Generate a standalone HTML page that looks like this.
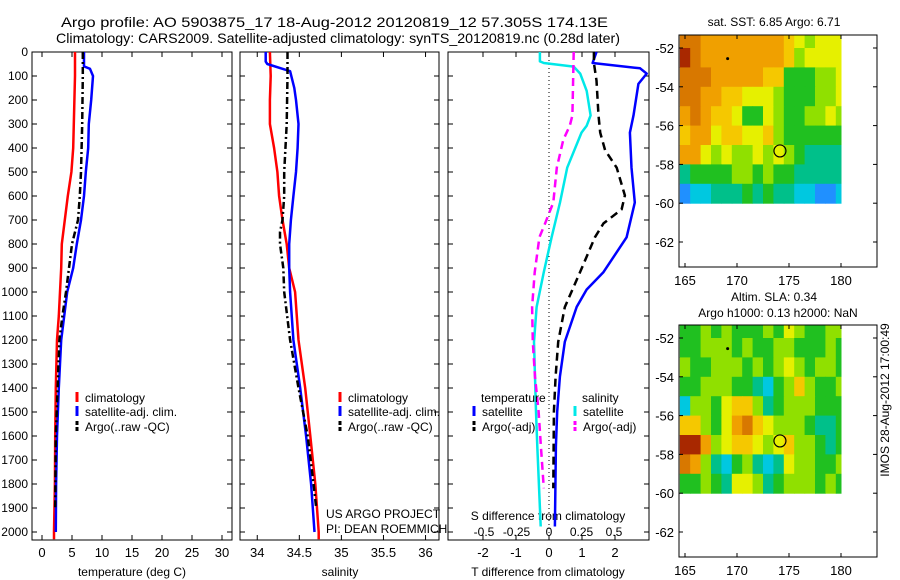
<!DOCTYPE html>
<html><head><meta charset="utf-8"><style>
html,body{margin:0;padding:0;background:#fff;}
svg{display:block;font-family:"Liberation Sans",sans-serif;}
</style></head><body>
<svg id="chart" width="900" height="580" viewBox="0 0 900 580" xmlns="http://www.w3.org/2000/svg">
<text x="61" y="27" font-size="14" textLength="547" lengthAdjust="spacingAndGlyphs">Argo profile: AO 5903875_17 18-Aug-2012 20120819_12 57.305S 174.13E</text>
<text x="56" y="43" font-size="14" textLength="564" lengthAdjust="spacingAndGlyphs">Climatology: CARS2009. Satellite-adjusted climatology: synTS_20120819.nc (0.28d later)</text>
<text x="326" y="518" font-size="12">US ARGO PROJECT</text>
<text x="326" y="533" font-size="12">PI: DEAN ROEMMICH</text>
<text x="548" y="520" font-size="12" text-anchor="middle">S difference from climatology</text>
<text x="774" y="26" font-size="12" text-anchor="middle">sat. SST: 6.85 Argo: 6.71</text>
<text x="774" y="301" font-size="12" text-anchor="middle">Altim. SLA: 0.34</text>
<text x="778" y="317" font-size="12" text-anchor="middle">Argo h1000: 0.13 h2000: NaN</text>
<text transform="translate(889,400) rotate(-90)" font-size="12" text-anchor="middle">IMOS 28-Aug-2012 17:00:49</text>
</svg>
<script>
const depthTicks=[0,100,200,300,400,500,600,700,800,900,1000,1100,1200,1300,1400,1500,1600,1700,1800,1900,2000];
const tClimDepth=[0,100,200,300,400,500,600,700,800,900,1000,1100,1200,1400,1600,1800,2000,2030];
const tClimVal=[5.5,5.5,5.4,5.3,5.2,4.9,4.3,3.8,3.3,3.2,3.0,2.8,2.5,2.3,2.2,2.15,2.0,2.0];
const tSatDepth=[0,60,70,100,200,300,400,500,600,700,800,900,1000,1100,1200,1400,1600,1800,2000];
const tSatVal=[7.0,7.0,8.0,8.5,8.2,7.8,7.7,7.3,7.0,6.5,5.8,5.2,4.2,3.7,3.2,2.8,2.5,2.35,2.3];
const tArgoDepth=[0,100,300,500,600,700,800,900,1000,1100,1200,1400,1600,1900];
const tArgoVal=[6.8,6.8,6.7,6.5,6.3,6.0,5.0,4.5,4.0,3.4,2.9,2.6,2.3,2.2];
const tTicks=[0,5,10,15,20,25,30];

const sClimDepth=[0,100,200,300,400,500,600,700,800,900,1000,1200,1400,1600,1800,2000,2030];
const sClimVal=[34.15,34.16,34.15,34.15,34.2,34.24,34.26,34.3,34.35,34.38,34.45,34.49,34.57,34.63,34.69,34.73,34.73];
const sSatDepth=[0,40,50,70,80,150,200,300,400,500,600,700,800,900,1000,1200,1400,1600,1800,2000];
const sSatVal=[34.1,34.1,34.12,34.3,34.39,34.44,34.46,34.49,34.48,34.46,34.43,34.4,34.38,34.38,34.39,34.43,34.51,34.58,34.64,34.68];
const sArgoDepth=[0,100,300,500,600,700,750,800,900,1000,1200,1400,1600,1800,1900];
const sArgoVal=[34.36,34.36,34.35,34.32,34.32,34.3,34.27,34.27,34.31,34.32,34.39,34.49,34.6,34.67,34.7];
const sTicks=[34,34.5,35,35.5,36];
const sTickLabels=["34","34.5","35","35.5","36"];

const dtSatDepth=[0,46,68,90,133,264,336,482,627,772,917,990,1062,1208,1353,1498,1643,1977];
const dtSatVal=[1.44,1.32,2.76,2.96,2.71,2.56,2.45,2.5,2.6,2.35,1.65,1.14,0.84,0.48,0.33,0.25,0.21,0.18];
const dtArgoDepth=[0,46,119,264,336,409,482,598,656,714,772,918,1063,1208,1353,1498,1818];
const dtArgoVal=[1.36,1.36,1.44,1.5,1.55,1.7,2.05,2.3,2.2,1.65,1.39,0.94,0.48,0.28,0.2,0.15,0.13];
const dsSatDepth=[0,39,46,61,90,162,264,307,336,482,627,772,917,1063,1208,1353,1498,1643,1977];
const dsSatVal=[-0.07,-0.07,-0.04,0.19,0.24,0.29,0.32,0.29,0.25,0.14,0.085,0.02,-0.04,-0.095,-0.115,-0.108,-0.1,-0.09,-0.064];
const dsArgoDepth=[0,264,307,366,482,627,714,772,918,1063,1208,1353,1498,1643,1818];
const dsArgoVal=[0.19,0.18,0.16,0.11,0.06,0.033,-0.03,-0.074,-0.11,-0.13,-0.125,-0.108,-0.08,-0.062,-0.04];
const dtTicks=[-2,-1,0,1,2];
const dsTicks=[-0.5,-0.25,0,0.25,0.5];
const dsTickLabels=["-0.5","-0.25","0","0.25","0.5"];

const mapLons=[165,166,167,168,169,170,171,172,173,174,175,176,177,178,179,180];
const mapLats=[-51.5,-52.5,-53.5,-54.5,-55.5,-56.5,-57.5,-58.5,-59.5];
const sstGrid=[
[8,8,7,7,7,7,7,7,7,7,6,5,4,5,5,5],
[9,8,7,7,7,7,7,7,7,7,6,4,5,5,5,5],
[8,8,8,7,7,7,7,7,6,6,3,3,3,4,4,5],
[8,8,7,7,6,6,5,5,5,4,3,3,3,4,4,5],
[7,8,7,6,6,5,3,3,5,4,3,3,4,4,5,4],
[6,7,7,5,6,6,5,5,6,4,3,3,3,3,3,3],
[7,7,5,4,5,4,4,5,4,5,4,3,2,2,2,2],
[2,3,3,3,3,4,4,3,4,3,3,2,2,2,2,2],
[0,1,1,2,2,2,3,2,3,2,2,1,1,0,0,1]];
const slaGrid=[
[3,3,4,3,4,3,3,3,4,3,5,4,3,3,4,4],
[3,3,4,4,4,3,4,3,3,4,4,3,3,3,4,3],
[4,3,3,4,4,4,3,4,3,4,5,4,3,4,4,3],
[3,3,4,4,4,3,3,2,1,3,4,6,4,3,3,4],
[1,4,4,3,5,6,6,4,2,3,4,4,4,3,3,3],
[6,6,4,3,5,7,8,6,5,4,4,4,3,2,2,3],
[9,9,7,4,5,6,6,5,4,5,6,4,4,3,2,3],
[8,7,4,2,1,3,4,2,1,2,5,4,4,3,3,4],
[3,3,4,3,2,5,5,4,2,3,4,4,4,3,4,3]];
const palette=["#2090ff","#00c8e0","#00c08a","#20c020","#90e000","#e6f000","#f5c800","#f0a000","#d87800","#a82800"];
const floatLon=174.13, floatLat=-57.305;
const dotLon=169.1, dotLat=-52.55;
const lonTicks=[165,170,175,180];
const latTicks=[-52,-54,-56,-58,-60,-62];

const svg=document.getElementById('chart');
const NS='http://www.w3.org/2000/svg';
function mk(tag,attrs,parent){const e=document.createElementNS(NS,tag);for(const k in attrs)e.setAttribute(k,attrs[k]);(parent||svg).appendChild(e);return e;}
function txt(x,y,s,anchor,parent,size){const e=mk('text',{x:x,y:y,'font-size':size||12,'text-anchor':anchor||'start'},parent);e.textContent=s;return e;}

const TOP=52, BOT=540;
function yDepth(d){return TOP+d*0.24;}

function panel(name,x0,x1,xmin,xmax){
  const g=mk('g',{});
  
  
  const fx=v=>x0+(v-xmin)/(xmax-xmin)*(x1-x0);
  const r=mk('rect',{x:x0,y:TOP,width:x1-x0,height:BOT-TOP,fill:'none',stroke:'#000','stroke-width':1},g);
  
  
  depthTicks.forEach(d=>{
    const y=yDepth(d);
    mk('line',{x1:x0,y1:y,x2:x0+5,y2:y,stroke:'#000'},g);
    mk('line',{x1:x1-5,y1:y,x2:x1,y2:y,stroke:'#000'},g);
  });
  return {g,fx};
}
function xTicks(p,ticks,labels,x0,x1,ly){
  ticks.forEach((t,i)=>{
    const x=p.fx(t);
    mk('line',{x1:x,y1:TOP,x2:x,y2:TOP+5,stroke:'#000'},p.g);
    mk('line',{x1:x,y1:BOT-5,x2:x,y2:BOT,stroke:'#000'},p.g);
    const l=txt(x,ly,labels[i],'middle',p.g,13);
    
    
  });
}
function line(p,ds,vs,fx,color,w,dash,name){
  const pts=ds.map((d,i)=>fx(vs[i]).toFixed(1)+','+yDepth(d).toFixed(1)).join(' ');
  const e=mk('polyline',{points:pts,fill:'none',stroke:color,'stroke-width':w,'stroke-dasharray':dash||'none','stroke-linejoin':'round'},p.g);
  
  
}
function legendEntry(parent,x,y,color,dash,label){
  const g=mk('g',{},parent);
  
  
  mk('line',{x1:x,y1:y-10,x2:x,y2:y,stroke:color,'stroke-width':3,'stroke-dasharray':dash||'none'},g);
  txt(x+8,y,label,'start',g);
}

const p1=panel('temperature-panel',32,232,-1.667,31.667);
xTicks(p1,tTicks,tTicks.map(String),32,232,557);
line(p1,tClimDepth,tClimVal,p1.fx,'#ff0000',2.5,null,'temp-climatology-line');
line(p1,tSatDepth,tSatVal,p1.fx,'#0000ff',2.5,null,'temp-satellite-line');
line(p1,tArgoDepth,tArgoVal,p1.fx,'#000',2.5,'7,3,2,3','temp-argo-line');
depthTicks.forEach(d=>{const l=txt(28,yDepth(d)+4,String(d),'end');
  
  });
const t1=txt(132,576,'temperature (deg C)','middle');


legendEntry(p1.g,77,402,'#ff0000',null,'climatology');
legendEntry(p1.g,77,416,'#0000ff',null,'satellite-adj. clim.');
legendEntry(p1.g,77,431,'#000','4,2','Argo(..raw -QC)');

const p2=panel('salinity-panel',240,439,33.795,36.16);
xTicks(p2,sTicks,sTickLabels,240,439,557);
line(p2,sClimDepth,sClimVal,p2.fx,'#ff0000',2.5,null,'sal-climatology-line');
line(p2,sSatDepth,sSatVal,p2.fx,'#0000ff',2.5,null,'sal-satellite-line');
line(p2,sArgoDepth,sArgoVal,p2.fx,'#000',2.5,'7,3,2,3','sal-argo-line');
const t2=txt(340,576,'salinity','middle');


legendEntry(p2.g,340,402,'#ff0000',null,'climatology');
legendEntry(p2.g,340,416,'#0000ff',null,'satellite-adj. clim.');
legendEntry(p2.g,340,431,'#000','4,2','Argo(..raw -QC)');

const p3=panel('difference-panel',448,649,-3.06,3.03);
const fs=v=>549+v*130;
xTicks(p3,dtTicks,dtTicks.map(String),448,649,557);
dsTicks.forEach((t,i)=>{const l=txt(fs(t),536,dsTickLabels[i],'middle',p3.g);
  
  });
const zl=mk('line',{x1:p3.fx(0),y1:TOP,x2:p3.fx(0),y2:BOT,stroke:'#000','stroke-dasharray':'1,3'},p3.g);


line(p3,dsSatDepth,dsSatVal,fs,'#00e8e8',2.5,null,'sal-diff-satellite-line');
line(p3,dsArgoDepth,dsArgoVal,fs,'#ff00ff',2.5,'8,5','sal-diff-argo-line');
line(p3,dtSatDepth,dtSatVal,p3.fx,'#0000ff',2.5,null,'temp-diff-satellite-line');
line(p3,dtArgoDepth,dtArgoVal,p3.fx,'#000',2.5,'8,5','temp-diff-argo-line');
const t3=txt(548,576,'T difference from climatology','middle');


txt(481,402,'temperature','start',p3.g);
legendEntry(p3.g,474,416,'#0000ff',null,'satellite');
legendEntry(p3.g,474,431,'#000','4,2','Argo(-adj)');
txt(582,402,'salinity','start',p3.g);
legendEntry(p3.g,575,416,'#00e8e8',null,'satellite');
legendEntry(p3.g,575,431,'#ff00ff','4,2','Argo(-adj)');

function drawMap(name,top,grid){
  const g=mk('g',{});
  
  
  const lx=lon=>685+(lon-165)*10.4;
  const ly=lat=>top+13+(-52-lat)*19.4;
  grid.forEach((row,r)=>row.forEach((v,c)=>{
    const lon=mapLons[c], lat=mapLats[r];
    const x0=Math.max(lx(lon-0.5),679), x1=Math.min(lx(lon+0.5),841);
    const y0=Math.max(ly(lat+0.5),top), y1=ly(lat-0.5);
    const cell=mk('rect',{x:x0,y:y0,width:x1-x0+0.5,height:y1-y0+0.5,fill:palette[v]},g);
    
    
  }));
  mk('rect',{x:679,y:top,width:198,height:232,fill:'none',stroke:'#000'},g);
  lonTicks.forEach(l=>{const x=lx(l);
    mk('line',{x1:x,y1:top,x2:x,y2:top+4,stroke:'#000'},g);
    mk('line',{x1:x,y1:top+232-4,x2:x,y2:top+232,stroke:'#000'},g);
    const t=txt(x,top+250,String(l),'middle',g,13);
    
    });
  latTicks.forEach(l=>{const y=ly(l);
    mk('line',{x1:679,y1:y,x2:683,y2:y,stroke:'#000'},g);
    mk('line',{x1:873,y1:y,x2:877,y2:y,stroke:'#000'},g);
    const t=txt(674,y+5,String(l),'end',g,13);
    
    });
  const d=mk('circle',{cx:lx(dotLon),cy:ly(dotLat),r:1.5,fill:'#000'},g);
  
  
  const c=mk('circle',{cx:lx(floatLon),cy:ly(floatLat),r:6,fill:'none',stroke:'#000','stroke-width':1.2},g);
  
  
}
drawMap('sst-map',35,sstGrid);
drawMap('sla-map',325,slaGrid);
</script>
</body></html>
